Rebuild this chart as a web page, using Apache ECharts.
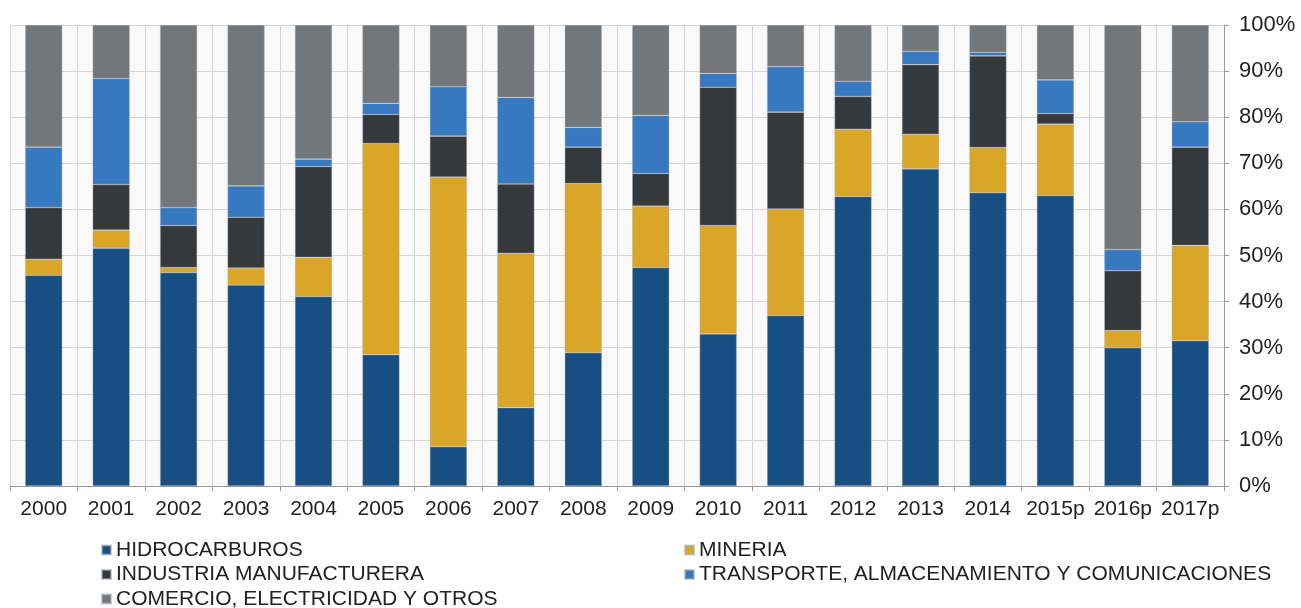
<!DOCTYPE html>
<html>
<head>
<meta charset="utf-8">
<script src="https://cdn.jsdelivr.net/npm/echarts@6/dist/echarts.min.js"></script>
<style>
  html, body { margin: 0; padding: 0; background: #fff; }
  #chart { width: 1301px; height: 608px; }
</style>
</head>
<body>
<div id="chart"></div>
<script>
const years = ['2000', '2001', '2002', '2003', '2004', '2005', '2006', '2007', '2008',
  '2009', '2010', '2011', '2012', '2013', '2014', '2015p', '2016p', '2017p']

// participación (%) por sector
const hidrocarburos = [45.7, 51.6, 46.3, 43.6, 41.1, 28.5, 8.5, 17.0, 28.9, 47.4, 33.0, 37.0, 62.8, 68.8, 63.6, 63.0, 30.0, 31.5]
const mineria = [3.5, 3.9, 1.1, 3.7, 8.5, 45.8, 58.5, 33.5, 36.7, 13.3, 23.5, 23.1, 14.6, 7.5, 9.8, 15.5, 3.7, 20.7]
const industria = [11.2, 9.9, 9.1, 11.0, 19.7, 6.3, 8.9, 15.0, 7.9, 7.1, 30.0, 21.0, 7.1, 15.1, 19.9, 2.3, 13.0, 21.3]
const transporte = [13.1, 23.0, 3.9, 6.8, 1.6, 2.4, 10.7, 18.8, 4.3, 12.6, 3.0, 9.9, 3.3, 2.9, 0.8, 7.3, 4.6, 5.5]
const comercio = [26.5, 11.6, 39.6, 34.9, 29.1, 17.0, 13.4, 15.7, 22.2, 19.6, 10.5, 9.0, 12.2, 5.7, 5.9, 11.9, 48.7, 21.0]

const seriesDefs = [
  { name: 'HIDROCARBUROS', data: hidrocarburos, color: '#174f82' },
  { name: 'MINERIA', data: mineria, color: '#d9a628' },
  { name: 'INDUSTRIA MANUFACTURERA', data: industria, color: '#36393c' },
  { name: 'TRANSPORTE, ALMACENAMIENTO Y COMUNICACIONES', data: transporte, color: '#3779c0' },
  { name: 'COMERCIO, ELECTRICIDAD Y OTROS', data: comercio, color: '#74777a' }
]

const font = 'Liberation Sans, Arial, sans-serif'
const legendText = { fontFamily: font, fontSize: 21, color: '#222', lineHeight: 21 }

const chart = echarts.init(document.getElementById('chart'), null, { renderer: 'canvas' })

const legendBase = {
  orient: 'vertical',
  top: 539.5,
  height: 100,
  padding: 0,
  itemWidth: 9,
  itemHeight: 9,
  itemGap: 3.5,
  icon: 'rect',
  textStyle: legendText,
  selectedMode: false
}

const option = {
  animation: false,
  backgroundColor: '#ffffff',
  grid: {
    left: 10,
    right: 77,
    top: 25,
    bottom: 122,
    show: true,
    backgroundColor: '#f9f9f9',
    borderWidth: 0
  },
  legend: [
    Object.assign({}, legendBase, {
      data: ['HIDROCARBUROS', 'INDUSTRIA MANUFACTURERA', 'COMERCIO, ELECTRICIDAD Y OTROS'],
      left: 101
    }),
    Object.assign({}, legendBase, {
      data: ['MINERIA', 'TRANSPORTE, ALMACENAMIENTO Y COMUNICACIONES'],
      left: 684
    })
  ],
  xAxis: {
    type: 'category',
    data: years,
    boundaryGap: true,
    axisLine: { show: true, lineStyle: { color: '#9a9a9a', width: 1 } },
    axisTick: { show: true, interval: 0, length: 5, lineStyle: { color: '#9a9a9a' } },
    axisLabel: { interval: 0, fontFamily: font, fontSize: 21, color: '#222', margin: 13 },
    splitLine: { show: true, interval: 0, lineStyle: { color: '#d6d6d6', width: 1 } }
  },
  yAxis: {
    type: 'value',
    position: 'right',
    min: 0,
    max: 100,
    interval: 10,
    axisLine: { show: true, lineStyle: { color: '#9a9a9a', width: 1 } },
    axisTick: { show: true, length: 5, lineStyle: { color: '#9a9a9a' } },
    axisLabel: {
      fontFamily: font,
      fontSize: 22,
      color: '#222',
      margin: 15,
      formatter: (v) => `${v}%`
    },
    splitLine: { show: true, lineStyle: { color: '#d6d6d6', width: 1 } }
  },
  series: seriesDefs.map((s) => ({
    name: s.name,
    type: 'bar',
    stack: 'total',
    barWidth: '55%',
    data: s.data,
    itemStyle: {
      color: s.color,
      borderColor: 'rgba(170,175,180,0.6)',
      borderWidth: 0.6
    }
  }))
}

chart.setOption(option)
</script>
</body>
</html>
